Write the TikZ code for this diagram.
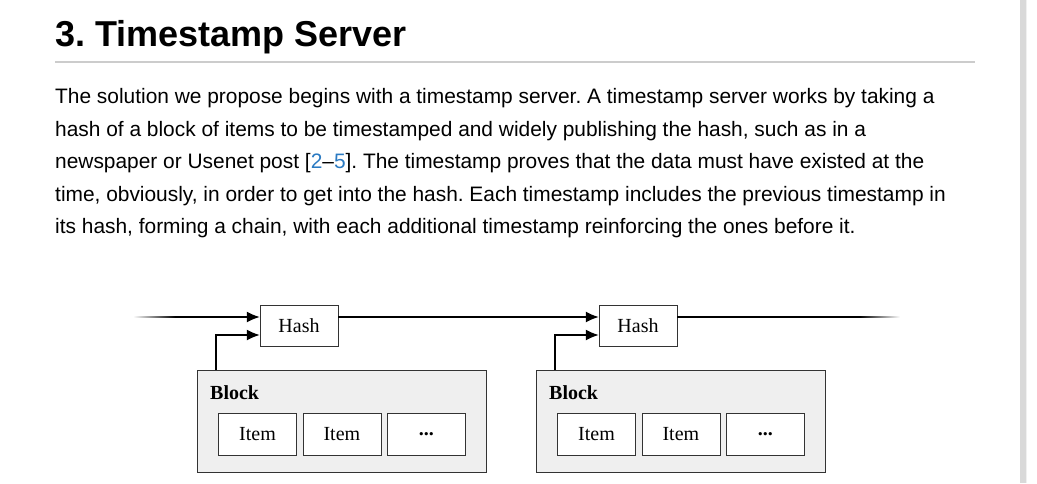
\documentclass[tikz,border=0pt]{standalone}
\usepackage{fontspec}
\setmainfont{Liberation Serif}
\newfontfamily\bodyfont{Liberation Sans}
\usetikzlibrary{arrows.meta,positioning}
\definecolor{linkblue}{HTML}{2A7AC2}
\definecolor{blockgray}{HTML}{EFEFEF}
\frenchspacing
\begin{document}
\begin{tikzpicture}[x=1pt,y=-1pt,
    hashbox/.style={draw=black!80, fill=white, minimum width=78pt, minimum height=41pt, font=\fontsize{20}{22}\selectfont},
    itembox/.style={draw=black!80, fill=white, minimum width=78pt, minimum height=42pt, font=\fontsize{20}{22}\selectfont},
    blockbox/.style={draw=black!80, fill=blockgray, minimum width=289pt, minimum height=102pt},
    textline/.style={anchor=base west, inner sep=0pt, font=\bodyfont\fontsize{20.9}{22}\selectfont},
    link/.style={-{Latex[length=13pt,width=11pt]}, line width=1.5pt}]
  \useasboundingbox (0,0) rectangle (1037,483);
  \fill[black!15] (1020,0) rectangle (1026,483);
  \fill[black!6] (1026,0) rectangle (1027,483);
  % heading
  \node[anchor=base west, inner sep=0pt, font=\bodyfont\bfseries\fontsize{36}{38}\selectfont] (title) at (55,46) {3. Timestamp Server};
  \draw[black!20, line width=1.5pt] (55,62) -- (975,62);
  % paragraph
  \node[textline] (l1) at (55,103) {The solution we propose begins with a timestamp server. A timestamp server works by taking a};
  \node[textline] (l2) at (55,136) {hash of a block of items to be timestamped and widely publishing the hash, such as in a};
  \node[textline] (l3) at (55,168) {newspaper or Usenet post [\textcolor{linkblue}{2}\textendash\textcolor{linkblue}{5}]. The timestamp proves that the data must have existed at the};
  \node[textline] (l4) at (55,201) {time, obviously, in order to get into the hash. Each timestamp includes the previous timestamp in};
  \node[textline] (l5) at (55,233) {its hash, forming a chain, with each additional timestamp reinforcing the ones before it.};
  % chain
  \foreach \i/\dx in {1/0, 2/339} {
    \node[hashbox] (hash\i) at (299+\dx,325.5) {Hash};
    \node[blockbox] (block\i) at (341.5+\dx,421) {};
    \node[anchor=base west, inner sep=0pt, font=\bfseries\fontsize{20}{22}\selectfont] (label\i) at (210+\dx,399) {Block};
    \node[itembox] (itemA\i) at (257.5+\dx,434) {Item};
    \node[itembox, right=6pt of itemA\i] (itemB\i) {Item};
    \node[itembox, right=6pt of itemB\i] (itemC\i) {\textbf{...}};
    \coordinate (up\i) at (216+\dx,370);
    \draw[link] (up\i) |- ([yshift=-9.5pt]hash\i.west);
  }
  \coordinate (start) at (133,317);
  \coordinate (stop) at (900,317);
  \shade[left color=white, right color=black] (start) ++(0,-0.75) rectangle (175,317.75);
  \draw[link] (175,317) -- (hash1.west |- start);
  \draw[link] (hash1.east |- start) -- (hash2.west |- start);
  \draw[line width=1.5pt] (hash2.east |- start) -- (860,317);
  \shade[left color=black, right color=white] (860,316.25) rectangle (stop) ++(0,0.75);
\end{tikzpicture}
\end{document}
